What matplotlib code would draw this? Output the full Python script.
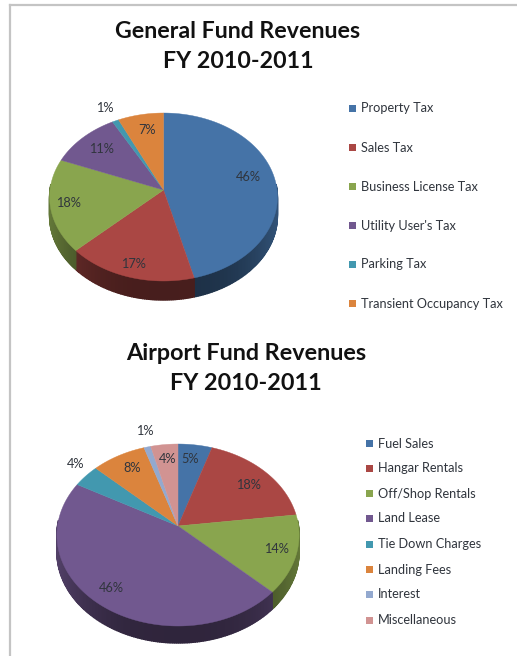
import numpy as np
import matplotlib
matplotlib.use("Agg")
import matplotlib.pyplot as plt
from matplotlib.colors import to_rgb

plt.rcParams['font.family'] = ['Lato', 'DejaVu Sans']

# DATA
general_names = ["Property Tax", "Sales Tax", "Business License Tax", "Utility User's Tax",
                 "Parking Tax", "Transient Occupancy Tax"]
general_values = [46, 17, 18, 11, 1, 7]

airport_names = ["Fuel Sales", "Hangar Rentals", "Off/Shop Rentals", "Land Lease",
                 "Tie Down Charges", "Landing Fees", "Interest", "Miscellaneous"]
airport_values = [5, 18, 14, 46, 4, 8, 1, 4]

COLORS = ['#4573a7', '#aa4744', '#89a54e', '#71588f', '#4298af', '#db843d', '#93a9cf', '#d19392']
TEXT = '#30353d'


def rim(t, pie):
    # t in degrees clockwise from 12 o'clock, tilted circle seen in perspective
    cx, cy, a, b, k = pie
    t = np.radians(t)
    u, v = np.sin(t), -np.cos(t)
    w = 1 + k * v
    return cx + b * u / w, cy + a * v / w


def draw_pie(ax, values, pie, depth):
    edges = np.cumsum([0] + list(values)) / np.sum(values) * 360
    # side wall first, back to front so the segments overlap cleanly
    for i in range(len(values)):
        ts = np.linspace(edges[i], edges[i + 1], int(values[i]) * 4 + 2)
        c = np.array(to_rgb(COLORS[i]))
        for t0, t1 in zip(ts[:-1], ts[1:]):
            x0, y0 = rim(t0, pie)
            x1, y1 = rim(t1, pie)
            if y0 < pie[1] - 5 and y1 < pie[1] - 5:
                continue
            # darker towards the middle of the front
            s = 0.42 + 0.3 * (abs(x0 - pie[0]) / pie[3]) ** 3
            col = c * s
            ax.fill([x0, x1, x1, x0], [y0, y1, y1 + depth, y0 + depth],
                    facecolor=col, edgecolor=col, lw=1.0, zorder=2)
    # top surface
    for i in range(len(values)):
        ts = np.linspace(edges[i], edges[i + 1], int(values[i]) * 4 + 2)
        x, y = rim(ts, pie)
        ax.fill(np.r_[pie[0], x], np.r_[pie[1], y], color=COLORS[i], lw=0.3, zorder=3)


def draw_legend(ax, names, x, ys):
    for i, (name, y) in enumerate(zip(names, ys)):
        ax.fill([x, x + 7, x + 7, x], [y - 3.5, y - 3.5, y + 3.5, y + 3.5], color=COLORS[i], lw=0)
        ax.text(x + 12, y + 0.5, name, fontsize=9.2, color=TEXT, va='center', ha='left')


fig = plt.figure(figsize=(5.17, 6.56), dpi=100)
ax = fig.add_axes([0, 0, 1, 1])
ax.set_xlim(0, 517)
ax.set_ylim(656, 0)
ax.axis('off')

# page edge
ax.plot([10, 10], [5, 656], color='#c4c4c4', lw=1.6)
ax.plot([10, 517], [5, 5], color='#c4c4c4', lw=1.6)

ax.text(238, 31, "General Fund Revenues", fontsize=16.7, fontweight='bold', color='#111111', ha='center', va='center')
ax.text(238, 61, "FY 2010-2011", fontsize=16.7, fontweight='bold', color='#111111', ha='center', va='center')
ax.text(246, 354, "Airport Fund Revenues", fontsize=16.8, fontweight='bold', color='#111111', ha='center', va='center')
ax.text(246, 384, "FY 2010-2011", fontsize=16.8, fontweight='bold', color='#111111', ha='center', va='center')

draw_pie(ax, general_values, (163.5, 190, 83.4, 113.5, -1 / 12), 19)
draw_pie(ax, airport_values, (178, 526, 90.1, 120.5, -0.099), 17)

general_pos = [(248, 177), (133, 264), (68, 203), (101, 149), (105, 108), (147, 130)]
airport_pos = [(190, 459), (248, 485), (276, 549), (111, 588), (76, 464), (132, 468), (145, 431), (168, 459)]
for v, (x, y) in zip(general_values, general_pos):
    ax.text(x, y, f"{v}%", fontsize=9.2, color=TEXT, ha='center', va='center', zorder=5)
for v, (x, y) in zip(airport_values, airport_pos):
    ax.text(x, y, f"{v}%", fontsize=9.2, color=TEXT, ha='center', va='center', zorder=5)

draw_legend(ax, general_names, 349, [108, 147, 186.5, 225.5, 264, 303])
draw_legend(ax, airport_names, 366, [443, 468, 493, 518, 544, 569, 594, 620])

fig.savefig("out.png", dpi=100)
